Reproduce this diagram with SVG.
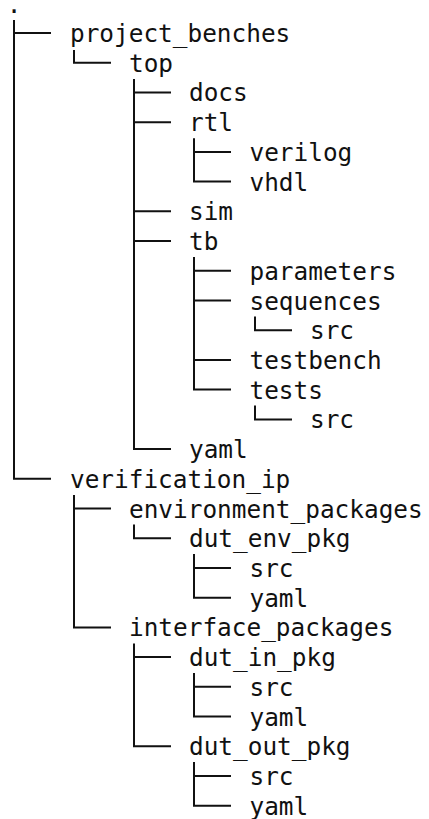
<svg xmlns="http://www.w3.org/2000/svg" width="429" height="819" viewBox="0 0 429 819">
<style>
  text { font-family: "DejaVu Sans Mono", "Liberation Mono", monospace; font-size: 24.4px; fill: #111; }
  .c line, .c path { stroke: #111; stroke-width: 2; fill: none; }
</style>
<rect width="429" height="819" fill="#fff"/>
<g class="c" id="connectors">
  <!-- verticals -->
  <path d="M14 20 V478.8 H51"/>
  <path d="M14 33 H51"/>
  <path d="M74 50 V62.7 H111"/>
  <path d="M134 79 V449.1 H171"/>
  <path d="M134 92.4 H171"/>
  <path d="M134 122.2 H171"/>
  <path d="M134 211.3 H171"/>
  <path d="M134 241 H171"/>
  <path d="M194 138.3 V181.6 H231"/>
  <path d="M194 151.9 H231"/>
  <path d="M194 257 V389.6 H231"/>
  <path d="M194 270.8 H231"/>
  <path d="M194 300.5 H231"/>
  <path d="M194 359.9 H231"/>
  <path d="M255 316.5 V330.2 H292"/>
  <path d="M255 405.6 V419.4 H292"/>
  <path d="M74 495 V627.4 H111"/>
  <path d="M74 508.5 H111"/>
  <path d="M134 524.5 V538.2 H171"/>
  <path d="M194 554 V597.7 H231"/>
  <path d="M194 568 H231"/>
  <path d="M134 643.4 V746.3 H171"/>
  <path d="M134 657.1 H171"/>
  <path d="M194 673 V716.6 H231"/>
  <path d="M194 686.8 H231"/>
  <path d="M194 762 V805.7 H231"/>
  <path d="M194 776 H231"/>
</g>
<g id="n0"><text x="14" y="13" text-anchor="middle">.</text></g>
<g id="n1"><text x="70" y="42">project_benches</text></g>
<g id="n2"><text x="129" y="71.7">top</text></g>
<g id="n3"><text x="189" y="101.4">docs</text></g>
<g id="n4"><text x="189" y="131.2">rtl</text></g>
<g id="n5"><text x="249.5" y="160.9">verilog</text></g>
<g id="n6"><text x="249.5" y="190.6">vhdl</text></g>
<g id="n7"><text x="189" y="220.3">sim</text></g>
<g id="n8"><text x="189" y="250">tb</text></g>
<g id="n9"><text x="249.5" y="279.8">parameters</text></g>
<g id="n10"><text x="249.5" y="309.5">sequences</text></g>
<g id="n11"><text x="310" y="339.2">src</text></g>
<g id="n12"><text x="249.5" y="368.9">testbench</text></g>
<g id="n13"><text x="249.5" y="398.6">tests</text></g>
<g id="n14"><text x="310" y="428.4">src</text></g>
<g id="n15"><text x="189" y="458.1">yaml</text></g>
<g id="n16"><text x="70" y="487.8">verification_ip</text></g>
<g id="n17"><text x="129" y="517.5">environment_packages</text></g>
<g id="n18"><text x="189" y="547.2">dut_env_pkg</text></g>
<g id="n19"><text x="249.5" y="577">src</text></g>
<g id="n20"><text x="249.5" y="606.7">yaml</text></g>
<g id="n21"><text x="129" y="636.4">interface_packages</text></g>
<g id="n22"><text x="189" y="666.1">dut_in_pkg</text></g>
<g id="n23"><text x="249.5" y="695.8">src</text></g>
<g id="n24"><text x="249.5" y="725.6">yaml</text></g>
<g id="n25"><text x="189" y="755.3">dut_out_pkg</text></g>
<g id="n26"><text x="249.5" y="785">src</text></g>
<g id="n27"><text x="249.5" y="814.7">yaml</text></g>
</svg>
